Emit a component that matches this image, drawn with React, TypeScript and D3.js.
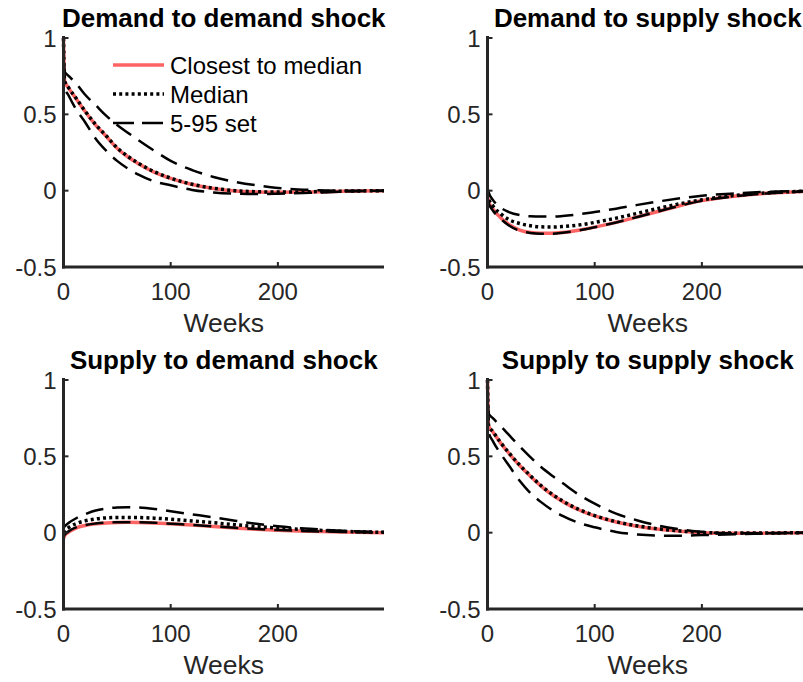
import React from "react";
import * as d3 from "d3";

// ---- Data ----
const weeks = [0, 1, 5, 12, 20, 30, 40, 50, 60, 70, 85, 100, 120, 140, 160, 180, 200, 230, 260, 299];

const xTicks = [0, 100, 200];
const yTicks = [-0.5, 0, 0.5, 1];
const yTickLabels = ["-0.5", "0", "0.5", "1"];

const titles = [
  "Demand to demand shock",
  "Demand to supply shock",
  "Supply to demand shock",
  "Supply to supply shock",
];

const legendLabels = ["Closest to median", "Median", "5-95 set"];

// Demand to demand shock
const ddClosest = [1, 0.72, 0.67, 0.6, 0.52, 0.43, 0.355, 0.278, 0.222, 0.176, 0.12, 0.08, 0.04, 0.014, -0.002, -0.008, -0.01, -0.008, -0.004, 0];
const ddMedian = [1, 0.72, 0.672, 0.603, 0.523, 0.433, 0.358, 0.281, 0.225, 0.179, 0.123, 0.082, 0.042, 0.016, 0.0, -0.007, -0.009, -0.007, -0.003, 0];
const ddUpper = [1, 0.78, 0.75, 0.7, 0.63, 0.56, 0.49, 0.43, 0.38, 0.33, 0.26, 0.195, 0.135, 0.09, 0.058, 0.035, 0.018, 0.005, 0, 0];
const ddLower = [1, 0.68, 0.62, 0.53, 0.45, 0.34, 0.26, 0.195, 0.145, 0.105, 0.06, 0.035, 0.005, -0.012, -0.02, -0.022, -0.02, -0.014, -0.007, 0];

// Demand to supply shock
const dsClosest = [-0.04, -0.07, -0.12, -0.175, -0.222, -0.258, -0.274, -0.279, -0.279, -0.274, -0.259, -0.239, -0.208, -0.172, -0.135, -0.097, -0.065, -0.036, -0.017, -0.004];
const dsMedian = [-0.02, -0.05, -0.1, -0.15, -0.19, -0.215, -0.23, -0.237, -0.238, -0.235, -0.225, -0.208, -0.18, -0.148, -0.115, -0.085, -0.06, -0.032, -0.015, -0.003];
const dsUpper = [0.02, -0.01, -0.06, -0.11, -0.14, -0.16, -0.168, -0.17, -0.17, -0.166, -0.155, -0.14, -0.118, -0.093, -0.07, -0.05, -0.033, -0.018, -0.008, -0.002];
const dsLower = [-0.05, -0.08, -0.13, -0.182, -0.228, -0.262, -0.277, -0.282, -0.282, -0.276, -0.261, -0.24, -0.208, -0.172, -0.135, -0.098, -0.067, -0.038, -0.018, -0.005];

// Supply to demand shock
const sdClosest = [-0.04, -0.02, 0.005, 0.032, 0.047, 0.058, 0.064, 0.067, 0.068, 0.067, 0.064, 0.058, 0.05, 0.04, 0.031, 0.023, 0.016, 0.009, 0.004, 0.0];
const sdMedian = [0.0, 0.012, 0.035, 0.06, 0.077, 0.09, 0.097, 0.1, 0.1, 0.099, 0.095, 0.088, 0.077, 0.065, 0.052, 0.04, 0.03, 0.018, 0.009, 0.002];
const sdUpper = [0.03, 0.04, 0.065, 0.095, 0.12, 0.145, 0.158, 0.165, 0.167, 0.165, 0.155, 0.14, 0.12, 0.1, 0.078, 0.058, 0.042, 0.025, 0.013, 0.004];
const sdLower = [-0.035, -0.015, 0.01, 0.035, 0.05, 0.06, 0.066, 0.068, 0.069, 0.068, 0.065, 0.059, 0.051, 0.041, 0.032, 0.024, 0.017, 0.01, 0.005, 0.001];

// Supply to supply shock
const ssClosest = [1, 0.7, 0.66, 0.59, 0.52, 0.44, 0.37, 0.305, 0.25, 0.205, 0.15, 0.11, 0.07, 0.042, 0.022, 0.01, 0.0, -0.004, -0.003, 0];
const ssMedian = [1, 0.7, 0.662, 0.593, 0.523, 0.443, 0.373, 0.308, 0.253, 0.208, 0.153, 0.112, 0.072, 0.044, 0.024, 0.011, 0.001, -0.003, -0.002, 0];
const ssUpper = [1, 0.78, 0.75, 0.7, 0.64, 0.565, 0.495, 0.43, 0.375, 0.325, 0.25, 0.19, 0.125, 0.08, 0.045, 0.022, 0.006, -0.004, -0.004, 0];
const ssLower = [1, 0.66, 0.6, 0.52, 0.44, 0.34, 0.26, 0.2, 0.15, 0.11, 0.065, 0.035, 0.005, -0.012, -0.019, -0.02, -0.016, -0.01, -0.005, 0];

const panelSeries = [
  { closest: ddClosest, median: ddMedian, upper: ddUpper, lower: ddLower },
  { closest: dsClosest, median: dsMedian, upper: dsUpper, lower: dsLower },
  { closest: sdClosest, median: sdMedian, upper: sdUpper, lower: sdLower },
  { closest: ssClosest, median: ssMedian, upper: ssUpper, lower: ssLower },
];

// ---- Layout / style ----
const W = 803;
const H = 682;
const FONT = "'Liberation Sans', Arial, Helvetica, sans-serif";
const AXIS = "#262626";
const RED = "#ff6464";
const panelX = [63.5, 487.5];
const panelBottom = [267, 609];
const plotW = 320.5;
const plotH = 229;

const DASH = "18 9";
const DOT = "3 3.2";

function Panel({ idx }: { idx: number }) {
  const col = idx % 2;
  const row = Math.floor(idx / 2);
  const x0 = panelX[col];
  const yb = panelBottom[row];
  const x = d3.scaleLinear().domain([0, 299]).range([x0, x0 + plotW]);
  const y = d3.scaleLinear().domain([-0.5, 1]).range([yb, yb - plotH]);
  const line = d3
    .line<number>()
    .x((_, i) => x(weeks[i]))
    .y((d) => y(d))
    .curve(d3.curveMonotoneX);
  const s = panelSeries[idx];
  const cx = x0 + plotW / 2;
  return (
    <g>
      <text x={cx} y={yb - plotH - 11} textAnchor="middle" fontFamily={FONT} fontWeight="bold" fontSize={26} fill="#000">
        {titles[idx]}
      </text>
      {/* series */}
      <path d={line(s.closest) || ""} fill="none" stroke={RED} strokeWidth={3.5} />
      <path d={line(s.median) || ""} fill="none" stroke="#000" strokeWidth={3.5} strokeDasharray={DOT} />
      <path d={line(s.upper) || ""} fill="none" stroke="#000" strokeWidth={2.5} strokeDasharray={DASH} />
      <path d={line(s.lower) || ""} fill="none" stroke="#000" strokeWidth={2.5} strokeDasharray={DASH} />
      {/* axes */}
      <line x1={x0} x2={x0} y1={y(1) - 2} y2={yb + 1.5} stroke={AXIS} strokeWidth={3} />
      <line x1={x0 - 1.5} x2={x0 + plotW} y1={yb} y2={yb} stroke={AXIS} strokeWidth={3} />
      {yTicks.map((t, i) => (
        <g key={"y" + i}>
          <line x1={x0} x2={x0 + 5} y1={y(t)} y2={y(t)} stroke={AXIS} strokeWidth={2} />
          <text x={x0 - 7} y={y(t)} dy="0.36em" textAnchor="end" fontFamily={FONT} fontSize={24} fill={AXIS}>
            {yTickLabels[i]}
          </text>
        </g>
      ))}
      {xTicks.map((t, i) => (
        <g key={"x" + i}>
          <line x1={x(t)} x2={x(t)} y1={yb} y2={yb - 5} stroke={AXIS} strokeWidth={2} />
          <text x={x(t)} y={yb + 33} textAnchor="middle" fontFamily={FONT} fontSize={24} fill={AXIS}>
            {String(t)}
          </text>
        </g>
      ))}
      <text x={cx} y={yb + 65} textAnchor="middle" fontFamily={FONT} fontSize={26.5} fill={AXIS}>
        Weeks
      </text>
    </g>
  );
}

function Legend() {
  const lx1 = 113;
  const lx2 = 164;
  const tx = 170;
  const rows = [65, 94, 123];
  return (
    <g>
      <line x1={lx1} x2={lx2} y1={rows[0]} y2={rows[0]} stroke={RED} strokeWidth={3.5} />
      <line x1={lx1} x2={lx2} y1={rows[1]} y2={rows[1]} stroke="#000" strokeWidth={3.5} strokeDasharray={DOT} />
      <line x1={lx1} x2={lx2} y1={rows[2]} y2={rows[2]} stroke="#000" strokeWidth={2.5} strokeDasharray="21 8" />
      {legendLabels.map((l, i) => (
        <text key={l} x={tx} y={rows[i]} dy="0.36em" fontFamily={FONT} fontSize={24} fill="#000">
          {l}
        </text>
      ))}
    </g>
  );
}

export default function App() {
  return (
    <svg
      width={W}
      height={H}
      viewBox={`0 0 ${W} ${H}`}
      style={{ position: "absolute", left: 0, top: 0, background: "#fff" }}
    >
      <rect width={W} height={H} fill="#fff" />
      {[0, 1, 2, 3].map((i) => (
        <Panel key={i} idx={i} />
      ))}
      <Legend />
    </svg>
  );
}
